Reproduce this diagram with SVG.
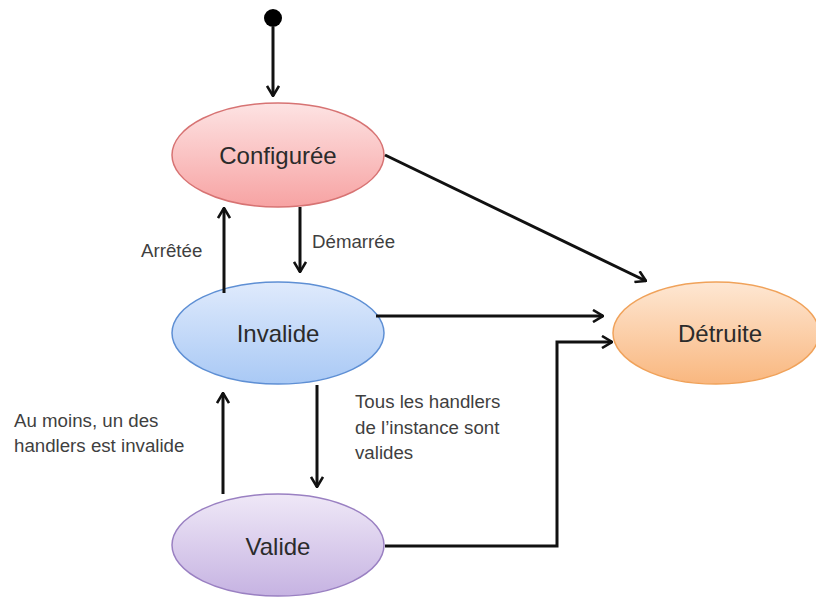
<svg xmlns="http://www.w3.org/2000/svg" width="816" height="598" viewBox="0 0 816 598">
<style>
.node text{font-family:"Liberation Sans",Arial,sans-serif;font-size:24px;fill:#2b2b2b;text-anchor:middle}
.lbl{font-family:"Liberation Sans",Arial,sans-serif;font-size:18.7px;fill:#3f3f3f}
.conn{fill:none;stroke:#111;stroke-width:3;marker-end:url(#arr)}
</style>
<defs>
<marker id="arr" markerUnits="userSpaceOnUse" viewBox="0 0 12 14" refX="11" refY="7" markerWidth="12" markerHeight="14" orient="auto">
<path d="M1,1 L11,7 L1,13" fill="none" stroke="#111" stroke-width="2.6"/>
</marker>
<linearGradient id="gPink" x1="0" y1="0" x2="0" y2="1"><stop offset="0" stop-color="#fde3e3"/><stop offset="1" stop-color="#f7a3a3"/></linearGradient>
<linearGradient id="gBlue" x1="0" y1="0" x2="0" y2="1"><stop offset="0" stop-color="#dfeafc"/><stop offset="1" stop-color="#a9c9f5"/></linearGradient>
<linearGradient id="gPurp" x1="0" y1="0" x2="0" y2="1"><stop offset="0" stop-color="#efe8f7"/><stop offset="1" stop-color="#c6b3e2"/></linearGradient>
<linearGradient id="gOrng" x1="0" y1="0" x2="0" y2="1"><stop offset="0" stop-color="#fee7d3"/><stop offset="1" stop-color="#f9b77f"/></linearGradient>
</defs>
<rect width="816" height="598" fill="#fff"/>
<g id="start"><circle cx="273" cy="18" r="9" fill="#000"/></g>
<g id="configuree" class="node"><ellipse cx="278" cy="155" rx="106" ry="52" fill="url(#gPink)" stroke="#d77373" stroke-width="1.5"/><text x="278" y="164">Configurée</text></g>
<g id="invalide" class="node"><ellipse cx="278" cy="333" rx="106" ry="51" fill="url(#gBlue)" stroke="#5e8fd4" stroke-width="1.5"/><text x="278" y="342">Invalide</text></g>
<g id="valide" class="node"><ellipse cx="278" cy="545" rx="106" ry="51" fill="url(#gPurp)" stroke="#9a80c2" stroke-width="1.5"/><text x="278" y="555">Valide</text></g>
<g id="detruite" class="node"><ellipse cx="716" cy="333" rx="103" ry="51" fill="url(#gOrng)" stroke="#f0a25a" stroke-width="1.5"/><text x="720" y="342">Détruite</text></g>
<g id="connectors">
<line class="conn" x1="273" y1="27" x2="273" y2="96"/>
<line class="conn" x1="224" y1="293" x2="224" y2="208"/>
<line class="conn" x1="300" y1="207" x2="300" y2="272"/>
<line class="conn" x1="317" y1="385" x2="317" y2="487"/>
<line class="conn" x1="223" y1="494" x2="223" y2="393"/>
<line class="conn" x1="385" y1="155" x2="646" y2="281"/>
<line class="conn" x1="376" y1="316" x2="603" y2="316"/>
<polyline class="conn" points="385,546 557,546 557,342 612,342"/>
</g>
<g id="labels">
<text class="lbl" x="141" y="257">Arrêtée</text>
<text class="lbl" x="312" y="248">Démarrée</text>
<text class="lbl" x="14" y="427">Au moins, un des</text>
<text class="lbl" x="14" y="452">handlers est invalide</text>
<text class="lbl" x="355" y="408">Tous les handlers</text>
<text class="lbl" x="355" y="434">de l’instance sont</text>
<text class="lbl" x="355" y="459">valides</text>
</g>
</svg>
